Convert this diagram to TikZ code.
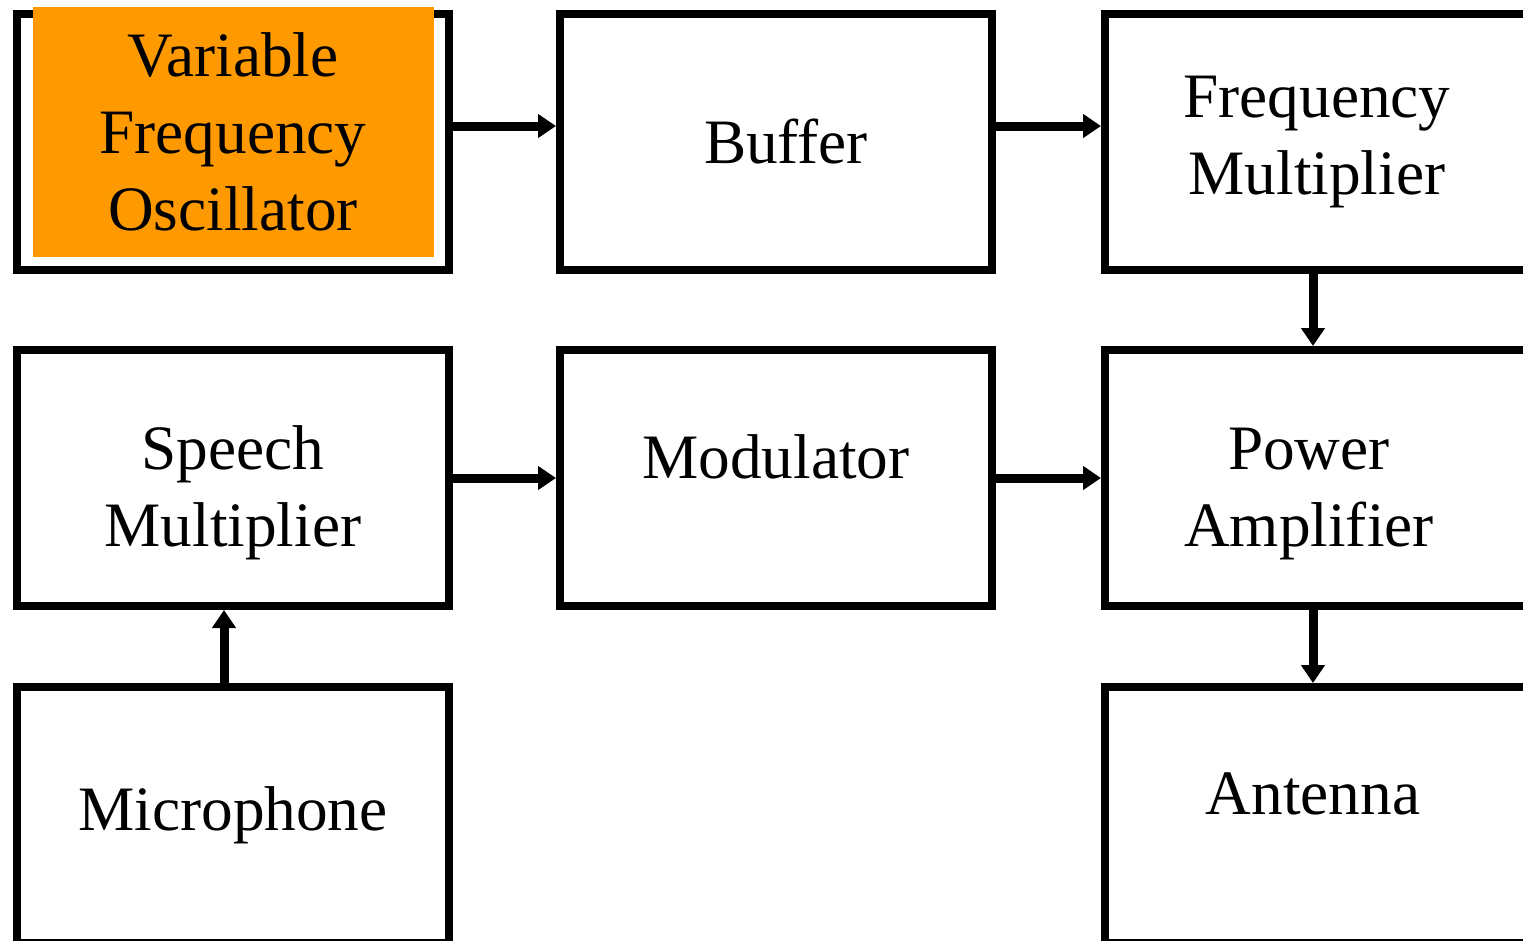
\documentclass[tikz,border=0pt]{standalone}
\usepackage{fontspec}
\setmainfont{Liberation Serif}
\usetikzlibrary{positioning,arrows.meta}
\definecolor{vfoorange}{HTML}{FF9900}
\tikzset{
  blk/.style = {draw=black, line width=0.08cm, rectangle, align=center, inner sep=0pt,
                minimum width=4.32cm, minimum height=2.56cm,
                font=\fontsize{18pt}{21.9pt}\selectfont},
  rblk/.style = {blk, minimum width=4.24cm},
  fillblk/.style = {rectangle, fill=vfoorange, align=center, inner sep=0pt,
                minimum width=4.01cm, minimum height=2.50cm,
                font=\fontsize{18pt}{21.9pt}\selectfont},
  link/.style = {->, line width=0.09cm},
}
\newcommand{\uptext}[1]{\raisebox{0.21cm}[\height][\depth]{#1}}
\newcommand{\downtext}[1]{\raisebox{-0.15cm}[\height][\depth]{\begin{tabular}{@{}c@{}}#1\end{tabular}}}

\begin{document}
\begin{tikzpicture}[node distance=0.72cm and 1.03cm,
  >={Triangle[length=0.18cm,width=0.23cm]}]
\useasboundingbox (0,0) rectangle (15.23,-9.40);
\clip (0,0) rectangle (15.23,-9.40);
% top row
\node [blk] (vfo) at (2.33,-1.42) {};
\node [fillblk] (vfofill) at ([yshift=0.10cm]vfo.center) {Variable\\Frequency\\Oscillator};
\node [blk, right=of vfo] (buf) {\hspace{0.2cm}Buffer};
\node [rblk, right=1.05cm of buf] (fmul) {Frequency\\Multiplier};
% middle row
\node [blk, below=of vfo] (speech) {\downtext{Speech\\Multiplier}};
\node [blk, below=of buf] (mod) {\uptext{Modulator}};
\node [rblk, below=of fmul] (pamp) {\downtext{Power\\Amplifier}\hspace{0.16cm}};
% bottom row
\node [blk, below=0.73cm of speech] (mic) {Microphone};
\node [rblk, below=0.73cm of pamp] (ant) {\uptext{Antenna}\hspace{0.08cm}};

\draw[link] ([yshift=0.16cm]vfo.east) -- ([yshift=0.16cm]buf.west);
\draw[link] ([yshift=0.16cm]buf.east) -- ([yshift=0.16cm]fmul.west);
\draw[link] ([xshift=-0.04cm]fmul.south) -- ([xshift=-0.04cm]pamp.north);
\draw[link] (speech.east) -- (mod.west);
\draw[link] (mod.east) -- (pamp.west);
\draw[link] ([xshift=-0.04cm]pamp.south) -- ([xshift=-0.04cm]ant.north);
\draw[link] ([xshift=-0.09cm]mic.north) -- ([xshift=-0.09cm]speech.south);
\end{tikzpicture}
\end{document}
